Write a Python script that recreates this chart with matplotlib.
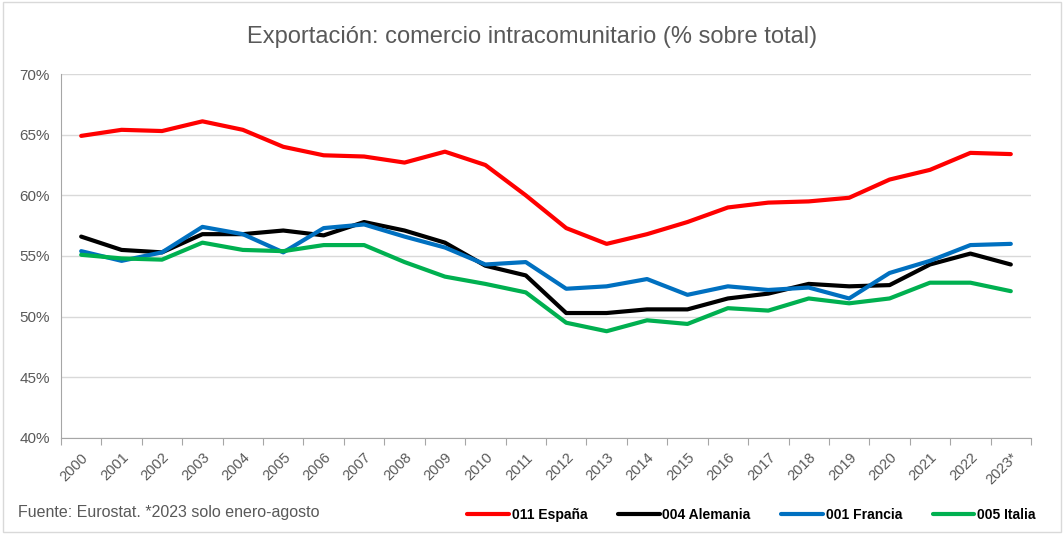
import matplotlib
matplotlib.use("Agg")
import matplotlib.pyplot as plt
from matplotlib.patches import Rectangle
from matplotlib.ticker import FuncFormatter, FixedLocator

plt.rcParams["font.family"] = ["Liberation Sans", "DejaVu Sans"]

C_RED = "#FF0000"
C_BLACK = "#000000"
C_BLUE = "#0070C0"
C_GREEN = "#00B050"
C_TEXT = "#595959"
C_GRID = "#D9D9D9"

years = ["2000", "2001", "2002", "2003", "2004", "2005", "2006", "2007", "2008",
         "2009", "2010", "2011", "2012", "2013", "2014", "2015", "2016", "2017",
         "2018", "2019", "2020", "2021", "2022", "2023*"]

espana = [64.9, 65.4, 65.3, 66.1, 65.4, 64.0, 63.3, 63.2, 62.7, 63.6, 62.5, 60.0,
          57.3, 56.0, 56.8, 57.8, 59.0, 59.4, 59.5, 59.8, 61.3, 62.1, 63.5, 63.4]
alemania = [56.6, 55.5, 55.3, 56.8, 56.8, 57.1, 56.7, 57.8, 57.1, 56.1, 54.2, 53.4,
            50.3, 50.3, 50.6, 50.6, 51.5, 51.9, 52.7, 52.5, 52.6, 54.3, 55.2, 54.3]
francia = [55.4, 54.6, 55.3, 57.4, 56.8, 55.3, 57.3, 57.6, 56.6, 55.7, 54.3, 54.5,
           52.3, 52.5, 53.1, 51.8, 52.5, 52.2, 52.4, 51.5, 53.6, 54.6, 55.9, 56.0]
italia = [55.1, 54.8, 54.7, 56.1, 55.5, 55.4, 55.9, 55.9, 54.5, 53.3, 52.7, 52.0,
          49.5, 48.8, 49.7, 49.4, 50.7, 50.5, 51.5, 51.1, 51.5, 52.8, 52.8, 52.1]

series = [
    ("011 España", espana, C_RED),
    ("004 Alemania", alemania, C_BLACK),
    ("001 Francia", francia, C_BLUE),
    ("005 Italia", italia, C_GREEN),
]

fig = plt.figure(figsize=(10.64, 5.34), dpi=100)
fig.patch.set_facecolor("white")
fig.patches.append(Rectangle((0.003, 0.004), 0.994, 0.992, transform=fig.transFigure,
                             fill=False, edgecolor=C_GRID, linewidth=1))

ax = fig.add_axes([0.0573, 0.1798, 0.9117, 0.6816])
x = list(range(len(years)))
for name, vals, color in series:
    ax.plot(x, vals, color=color, linewidth=3.0, label=name,
            solid_joinstyle="round", solid_capstyle="round")

ax.set_xlim(-0.5, len(years) - 0.5)
ax.set_ylim(40, 70)
ax.set_yticks([40, 45, 50, 55, 60, 65, 70])
ax.yaxis.set_major_formatter(FuncFormatter(lambda v, _: f"{v:.0f}%"))
ax.grid(axis="y", color=C_GRID, linewidth=1)
ax.set_axisbelow(True)

ax.set_xticks(x)
ax.set_xticklabels(years, rotation=45, ha="right", va="top", rotation_mode="anchor")
ax.xaxis.set_minor_locator(FixedLocator([i - 0.5 for i in range(len(years) + 1)]))
ax.tick_params(axis="x", which="major", length=0, labelsize=10.5, labelcolor=C_TEXT, pad=9)
ax.tick_params(axis="x", which="minor", length=5, color="#A6A6A6", width=0.8)
ax.tick_params(axis="y", length=0, labelsize=11, labelcolor=C_TEXT, pad=8)

for side in ["top", "right"]:
    ax.spines[side].set_visible(False)
ax.spines["left"].set_color("#A6A6A6")
ax.spines["bottom"].set_color("#A6A6A6")

fig.text(0.5, 0.93, "Exportación: comercio intracomunitario (% sobre total)",
         ha="center", va="center", fontsize=17, color=C_TEXT)
fig.text(0.017, 0.04, "Fuente: Eurostat. *2023 solo enero-agosto",
         ha="left", va="center", fontsize=11.5, color=C_TEXT)

fig.legend(loc="center right", bbox_to_anchor=(0.985, 0.035), ncol=4, frameon=False,
           prop={"size": 10, "weight": "bold"}, handlelength=3.0, columnspacing=2.2,
           handletextpad=0.2, labelcolor="#000000")

fig.savefig("out.png", dpi=100, facecolor="white")
